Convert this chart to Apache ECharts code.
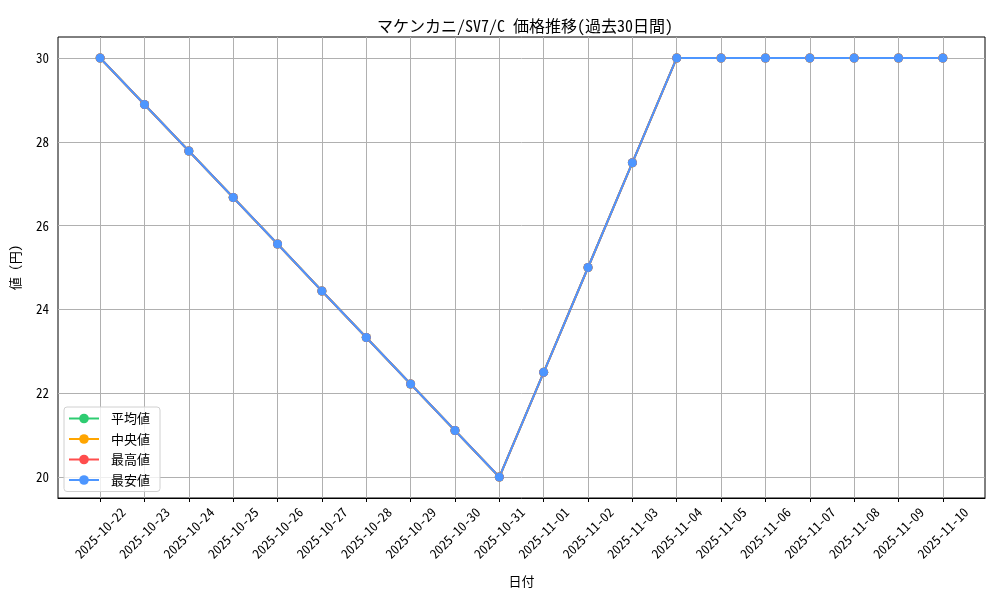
<!DOCTYPE html>
<html><head><meta charset="utf-8">
<script src="https://cdn.jsdelivr.net/npm/echarts@6/dist/echarts.min.js"></script>
<style>html,body{margin:0;padding:0;background:#fff}#c{width:1000px;height:600px}</style>
</head><body><div id="c"></div>
<script>
const categories = ['2025-10-22','2025-10-23','2025-10-24','2025-10-25','2025-10-26','2025-10-27','2025-10-28','2025-10-29','2025-10-30','2025-10-31','2025-11-01','2025-11-02','2025-11-03','2025-11-04','2025-11-05','2025-11-06','2025-11-07','2025-11-08','2025-11-09','2025-11-10'];
const avgValues = [30,28.89,27.78,26.67,25.56,24.44,23.33,22.22,21.11,20,22.5,25,27.5,30,30,30,30,30,30,30];
const medianValues = [30,28.89,27.78,26.67,25.56,24.44,23.33,22.22,21.11,20,22.5,25,27.5,30,30,30,30,30,30,30];
const maxValues = [30,28.89,27.78,26.67,25.56,24.44,23.33,22.22,21.11,20,22.5,25,27.5,30,30,30,30,30,30,30];
const minValues = [30,28.89,27.78,26.67,25.56,24.44,23.33,22.22,21.11,20,22.5,25,27.5,30,30,30,30,30,30,30];
const yTicks = [20,22,24,26,28,30];
const seriesNames = ['平均値','中央値','最高値','最安値'];
const colors = ['#2ecc71','#ffa500','#ff4d4d','#4d96ff'];

const FONT = '"Noto Sans Mono CJK JP", "Noto Sans CJK JP", sans-serif';
const idx = categories.map((c,i)=>i);
const chart = echarts.init(document.getElementById('c'), null, {renderer:'canvas'});
const mk = (name, vals, color) => ({
  name, type:'line', data: vals.map((v,i)=>[i,v]),
  symbol:'circle', symbolSize:9, showSymbol:true,
  itemStyle:{color}, lineStyle:{color, width:2}, z:5, animation:false
});
chart.setOption({
  animation:false,
  color: colors,
  title:{text:'マケンカニ/SV7/C 価格推移(過去30日間)', left:520, top:13, textAlign:'center',
    textStyle:{fontFamily:FONT, fontSize:16, fontWeight:'normal', color:'#000'}},
  grid:{left:58, right:15, top:37, bottom:102, show:true, borderColor:'#000', borderWidth:1, backgroundColor:'transparent'},
  legend:{data:seriesNames, orient:'vertical', left:64, top:407, padding:[5,10,5,4],
    itemWidth:30, itemHeight:12, itemGap:7.5,
    backgroundColor:'rgba(255,255,255,0.8)', borderColor:'#d0d0d0', borderWidth:1, borderRadius:3,
    textStyle:{fontFamily:FONT, fontSize:13, color:'#000', padding:[0,0,0,7]}},
  xAxis:{type:'value', min:-0.95, max:19.95,
    name:'日付', nameLocation:'middle', nameGap:77,
    nameTextStyle:{fontFamily:FONT, fontSize:13, color:'#000'},
    axisLine:{show:true, lineStyle:{color:'#000', width:1}},
    axisTick:{show:true, customValues: idx, length:4, lineStyle:{color:'#000'}},
    splitLine:{show:false},
    axisLabel:{customValues: idx, rotate:45, align:'center', verticalAlign:'middle', margin:35,
      fontFamily:FONT, fontSize:13, color:'#000', formatter:(v)=>categories[Math.round(v)]}},
  yAxis:{type:'value', min:19.5, max:30.5,
    name:'値 (円)', nameLocation:'middle', nameGap:36, nameRotate:90,
    nameTextStyle:{fontFamily:FONT, fontSize:13, color:'#000'},
    axisLine:{show:true, lineStyle:{color:'#000', width:1}},
    axisTick:{show:true, customValues: yTicks, length:4, lineStyle:{color:'#000'}},
    splitLine:{show:false},
    axisLabel:{customValues: yTicks, margin:9, fontFamily:FONT, fontSize:13, color:'#000'}},
  series:[
    {name:'grid', type:'line', data:[], silent:true, z:1,
      markLine:{silent:true, z:1, symbol:['none','none'], animation:false, label:{show:false},
        lineStyle:{color:'#b0b0b0', width:1, type:'solid'},
        emphasis:{disabled:true},
        data:[...idx.map(i=>({xAxis:i})), ...yTicks.map(v=>({yAxis:v}))]}},
    mk(seriesNames[0], avgValues, colors[0]),
    mk(seriesNames[1], medianValues, colors[1]),
    mk(seriesNames[2], maxValues, colors[2]),
    mk(seriesNames[3], minValues, colors[3])
  ]
});
</script></body></html>
